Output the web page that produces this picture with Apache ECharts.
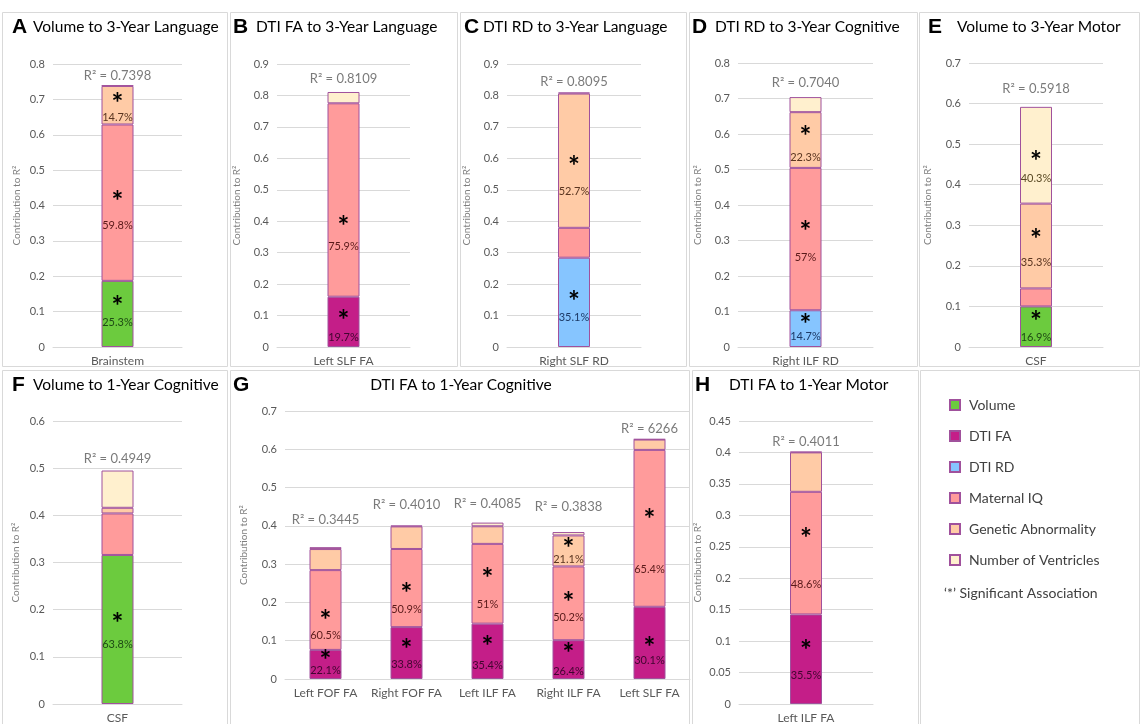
<!DOCTYPE html>
<html><head><meta charset="utf-8">
<script src="https://cdn.jsdelivr.net/npm/echarts/dist/echarts.min.js"></script>
<style>html,body{margin:0;padding:0;background:#fff}#c{width:1140px;height:724px}</style>
</head><body><div id="c"></div><script>
// ================= DATA =================
// Panel A : Volume to 3-Year Language
const A_categories = ['Brainstem'];
const A_volume = [0.187];      const A_volumePct = ['25.3%'];
const A_maternal = [0.442];    const A_maternalPct = ['59.8%'];
const A_genetic = [0.109];     const A_geneticPct = ['14.7%'];
const A_ventricles = [0.0015];
const A_r2 = [0.7398];         const A_r2Text = ['R² = 0.7398'];

// Panel B : DTI FA to 3-Year Language
const B_categories = ['Left SLF FA'];
const B_dtiFA = [0.160];       const B_dtiFAPct = ['19.7%'];
const B_maternal = [0.615];    const B_maternalPct = ['75.9%'];
const B_ventricles = [0.036];
const B_r2 = [0.8109];         const B_r2Text = ['R² = 0.8109'];

// Panel C : DTI RD to 3-Year Language
const C_categories = ['Right SLF RD'];
const C_dtiRD = [0.284];       const C_dtiRDPct = ['35.1%'];
const C_maternal = [0.095];
const C_genetic = [0.427];     const C_geneticPct = ['52.7%'];
const C_ventricles = [0.0035];
const C_r2 = [0.8095];         const C_r2Text = ['R² = 0.8095'];

// Panel D : DTI RD to 3-Year Cognitive
const D_categories = ['Right ILF RD'];
const D_dtiRD = [0.1035];      const D_dtiRDPct = ['14.7%'];
const D_maternal = [0.401];    const D_maternalPct = ['57%'];
const D_genetic = [0.157];     const D_geneticPct = ['22.3%'];
const D_ventricles = [0.0425];
const D_r2 = [0.7040];         const D_r2Text = ['R² = 0.7040'];

// Panel E : Volume to 3-Year Motor
const E_categories = ['CSF'];
const E_volume = [0.100];      const E_volumePct = ['16.9%'];
const E_maternal = [0.0444];
const E_genetic = [0.209];     const E_geneticPct = ['35.3%'];
const E_ventricles = [0.2385]; const E_ventriclesPct = ['40.3%'];
const E_r2 = [0.5918];         const E_r2Text = ['R² = 0.5918'];

// Panel F : Volume to 1-Year Cognitive
const F_categories = ['CSF'];
const F_volume = [0.316];      const F_volumePct = ['63.8%'];
const F_maternal = [0.088];
const F_genetic = [0.012];
const F_ventricles = [0.079];
const F_r2 = [0.4949];         const F_r2Text = ['R² = 0.4949'];

// Panel G : DTI FA to 1-Year Cognitive
const G_categories = ['Left FOF FA', 'Right FOF FA', 'Left ILF FA', 'Right ILF FA', 'Left SLF FA'];
const G_dtiFA = [0.076, 0.1355, 0.1446, 0.1013, 0.1886];
const G_dtiFAPct = ['22.1%', '33.8%', '35.4%', '26.4%', '30.1%'];
const G_maternal = [0.2084, 0.2041, 0.2083, 0.1927, 0.4098];
const G_maternalPct = ['60.5%', '50.9%', '51%', '50.2%', '65.4%'];
const G_genetic = [0.055, 0.059, 0.046, 0.081, 0.027];
const G_geneticPct = [null, null, null, '21.1%', null];
const G_ventricles = [0.005, 0.002, 0.0096, 0.0088, 0.0012];
const G_r2 = [0.3445, 0.4010, 0.4085, 0.3838, 0.6266];
const G_r2Text = ['R² = 0.3445', 'R² = 0.4010', 'R² = 0.4085', 'R² = 0.3838', 'R² = 6266'];

// Panel H : DTI FA to 1-Year Motor
const H_categories = ['Left ILF FA'];
const H_dtiFA = [0.1424];      const H_dtiFAPct = ['35.5%'];
const H_maternal = [0.195];    const H_maternalPct = ['48.6%'];
const H_genetic = [0.0627];
const H_ventricles = [0.001];
const H_r2 = [0.4011];         const H_r2Text = ['R² = 0.4011'];

// ================= STYLE / LAYOUT =================
const FONT = 'Lato';
const COMP = [
  {key:'volume',     name:'Volume',               color:'#6CCB3E', text:'#1E4A14'},
  {key:'dtiFA',      name:'DTI FA',               color:'#C41E88', text:'#40062F'},
  {key:'dtiRD',      name:'DTI RD',               color:'#86C5FF', text:'#1D3A66'},
  {key:'maternal',   name:'Maternal IQ',          color:'#FF9B9B', text:'#5A1A1A'},
  {key:'genetic',    name:'Genetic Abnormality',  color:'#FFCBA6', text:'#5A3520'},
  {key:'ventricles', name:'Number of Ventricles', color:'#FFF0CE', text:'#5A4A25'}
];
const BORDER = '#A0519C';

const PANELS = [
  {letter:'A', title:'Volume to 3-Year Language', letterX:12, titleX:33, headY:27,
   cats:A_categories, values:{volume:A_volume, maternal:A_maternal, genetic:A_genetic, ventricles:A_ventricles},
   pcts:{volume:A_volumePct, maternal:A_maternalPct, genetic:A_geneticPct},
   r2:A_r2, r2Text:A_r2Text, r2Dist:[3], yMax:0.8, yStep:0.1, grid:[53,64,129,283], nameGap:31,
   labelPos:{volume:[[-11.5,8.5]], maternal:[[-6,23]], genetic:[[-6.5,12.5]]}},
  {letter:'B', title:'DTI FA to 3-Year Language', letterX:233, titleX:256, headY:27,
   cats:B_categories, values:{dtiFA:B_dtiFA, maternal:B_maternal, ventricles:B_ventricles},
   pcts:{dtiFA:B_dtiFAPct, maternal:B_maternalPct},
   r2:B_r2, r2Text:B_r2Text, r2Dist:[7], yMax:0.9, yStep:0.1, grid:[277,64,133,283], nameGap:35,
   labelPos:{dtiFA:[[-6,16]], maternal:[[21.5,46.5]]}},
  {letter:'C', title:'DTI RD to 3-Year Language', letterX:464, titleX:483, headY:27,
   cats:C_categories, values:{dtiRD:C_dtiRD, maternal:C_maternal, genetic:C_genetic, ventricles:C_ventricles},
   pcts:{dtiRD:C_dtiRDPct, genetic:C_geneticPct},
   r2:C_r2, r2Text:C_r2Text, r2Dist:[4], yMax:0.9, yStep:0.1, grid:[507,64,134,283], nameGap:35,
   labelPos:{dtiRD:[[-5.5,15.5]], genetic:[[1,31]]}},
  {letter:'D', title:'DTI RD to 3-Year Cognitive', letterX:692, titleX:715, headY:27,
   cats:D_categories, values:{dtiRD:D_dtiRD, maternal:D_maternal, genetic:D_genetic, ventricles:D_ventricles},
   pcts:{dtiRD:D_dtiRDPct, maternal:D_maternalPct, genetic:D_geneticPct},
   r2:D_r2, r2Text:D_r2Text, r2Dist:[8], yMax:0.8, yStep:0.1, grid:[738,63,135,284], nameGap:35,
   labelPos:{dtiRD:[[-9,8]], maternal:[[-12.5,18.5]], genetic:[[-8.5,17.5]]}},
  {letter:'E', title:'Volume to 3-Year Motor', letterX:928, titleX:957, headY:27,
   cats:E_categories, values:{volume:E_volume, maternal:E_maternal, genetic:E_genetic, ventricles:E_ventricles},
   pcts:{volume:E_volumePct, genetic:E_geneticPct, ventricles:E_ventriclesPct},
   r2:E_r2, r2Text:E_r2Text, r2Dist:[12], yMax:0.7, yStep:0.1, grid:[969,63,134,284], nameGap:36,
   labelPos:{volume:[[-10,11]], genetic:[[-11,16]], ventricles:[[1.5,23.5]]}},
  {letter:'F', title:'Volume to 1-Year Cognitive', letterX:12, titleX:33, headY:385,
   cats:F_categories, values:{volume:F_volume, maternal:F_maternal, genetic:F_genetic, ventricles:F_ventricles},
   pcts:{volume:F_volumePct},
   r2:F_r2, r2Text:F_r2Text, r2Dist:[5], yMax:0.6, yStep:0.1, grid:[53,421,129,285], nameGap:32,
   labelPos:{volume:[[-11,15]]}},
  {letter:'G', title:'DTI FA to 1-Year Cognitive', letterX:233, titleCenter:461, headY:385,
   cats:G_categories, values:{dtiFA:G_dtiFA, maternal:G_maternal, genetic:G_genetic, ventricles:G_ventricles},
   pcts:{dtiFA:G_dtiFAPct, maternal:G_maternalPct, genetic:G_geneticPct},
   r2:G_r2, r2Text:G_r2Text, r2Dist:[21,14,12.5,19,4], yMax:0.7, yStep:0.1, grid:[285,411,405,268], nameGap:36,
   labelPos:{dtiFA:[[-8.5,6.5],[-8,11],[-9,14],[-10.5,11.5],[0.5,17.5]],
             maternal:[[6,25],[1,21],[-9.5,20.5],[-5,14],[-13,41]],
             genetic:[null,null,null,[-6.5,8.5],null]}},
  {letter:'H', title:'DTI FA to 1-Year Motor', letterX:695, titleX:729, headY:385,
   cats:H_categories, values:{dtiFA:H_dtiFA, maternal:H_maternal, genetic:H_genetic, ventricles:H_ventricles},
   pcts:{dtiFA:H_dtiFAPct, maternal:H_maternalPct},
   r2:H_r2, r2Text:H_r2Text, r2Dist:[3], yMax:0.45, yStep:0.05, grid:[739,421,134,285], nameGap:36,
   labelPos:{dtiFA:[[-13,16]], maternal:[[-19.5,31.5]]}}
];

const AST_SIZE = 28;
const EPS = 5; // asterisk glyph sits above its line centre
function makeItem(v, pct, pos, c) {
  if (!pct) return {value: v};
  const ast = pos ? pos[0] : -10, pd = pos ? pos[1] : 12;
  const off = ast + 7 + EPS;
  const h1 = Math.max(2, 2 * (pd - off));
  return {value: v, label: {show: true, position: 'inside', offset: [0, off],
    formatter: '{a|*}\n{p|' + pct + '}',
    rich: {a: {fontSize: AST_SIZE, lineHeight: h1, color: '#000', fontFamily: FONT, fontWeight: 'bold'},
           p: {fontSize: 11, lineHeight: 14, color: c.text, fontFamily: FONT}}}};
}

const grids = [], xAxes = [], yAxes = [], series = [], graphics = [];
PANELS.forEach((p, i) => {
  grids.push({left: p.grid[0], top: p.grid[1], width: p.grid[2], height: p.grid[3]});
  xAxes.push({gridIndex: i, type: 'category', data: p.cats,
    axisLine: {lineStyle: {color: '#D9D9D9'}}, axisTick: {show: false},
    axisLabel: {color: '#595959', fontSize: 12, fontFamily: FONT, margin: 8, interval: 0}});
  yAxes.push({gridIndex: i, type: 'value', min: 0, max: p.yMax, interval: p.yStep,
    splitLine: {lineStyle: {color: '#D9D9D9'}}, axisLine: {show: false}, axisTick: {show: false},
    axisLabel: {color: '#595959', fontSize: 11, fontFamily: FONT, margin: 8},
    name: 'Contribution to R²', nameLocation: 'middle', nameGap: p.nameGap,
    nameTextStyle: {color: '#7F7F7F', fontSize: 10, fontFamily: FONT}});
  COMP.forEach(c => {
    const vals = p.values[c.key];
    if (!vals) return;
    const pcts = (p.pcts && p.pcts[c.key]) || [];
    const pos = (p.labelPos && p.labelPos[c.key]) || [];
    series.push({type: 'bar', name: c.name, xAxisIndex: i, yAxisIndex: i, stack: 's' + i, barWidth: 32,
      itemStyle: {color: c.color, borderColor: BORDER, borderWidth: 1},
      data: vals.map((v, j) => makeItem(v, pcts[j], pos[j], c))});
  });
  series.push({type: 'scatter', name: 'r2_' + i, xAxisIndex: i, yAxisIndex: i, symbolSize: 1, silent: true,
    itemStyle: {color: 'rgba(0,0,0,0)'},
    data: p.r2.map((v, j) => ({value: v, label: {show: true, position: 'top', distance: p.r2Dist[j] - 0.5,
      formatter: p.r2Text[j], color: '#595959', fontSize: 13, fontFamily: FONT}}))});
  graphics.push({type: 'text', x: p.letterX, y: p.headY, silent: true,
    style: {text: p.letter, font: 'bold 21px "Liberation Sans"', fill: '#000', verticalAlign: 'middle', align: 'left'}});
  if (p.titleCenter) {
    graphics.push({type: 'text', x: p.titleCenter, y: p.headY, silent: true,
      style: {text: p.title, font: '15.5px ' + FONT, fill: '#000', verticalAlign: 'middle', align: 'center'}});
  } else {
    graphics.push({type: 'text', x: p.titleX, y: p.headY, silent: true,
      style: {text: p.title, font: '15.5px ' + FONT, fill: '#000', verticalAlign: 'middle', align: 'left'}});
  }
});

// panel frames
const FRAMES = [[2,12,225,354],[230,12,227,354],[460,12,226,354],[689,12,228,354],[919,12,220,354],
                [2,370,225,360],[230,370,459,360],[692,370,226,360],[920,370,219,360]];
FRAMES.forEach(f => graphics.unshift({type: 'rect', silent: true, shape: {x: f[0] + 0.5, y: f[1] + 0.5, width: f[2], height: f[3]},
  style: {fill: 'none', stroke: '#D9D9D9', lineWidth: 1}}));
graphics.push({type: 'text', x: 944, y: 593, silent: true,
  style: {text: '‘*’ Significant Association', font: '14px ' + FONT, fill: '#404040', verticalAlign: 'middle', align: 'left'}});

const chart = echarts.init(document.getElementById('c'), null, {renderer: 'canvas'});
chart.setOption({
  backgroundColor: '#fff',
  animation: false,
  grid: grids, xAxis: xAxes, yAxis: yAxes, series: series, graphic: graphics,
  legend: {data: COMP.map(c => c.name), orient: 'vertical', left: 944, top: 392, itemWidth: 10, itemHeight: 10,
    itemGap: 15, icon: 'rect', selectedMode: false,
    textStyle: {fontFamily: FONT, fontSize: 14, color: '#404040', lineHeight: 16, padding: [0, 0, 0, 4]}}
});
</script></body></html>
